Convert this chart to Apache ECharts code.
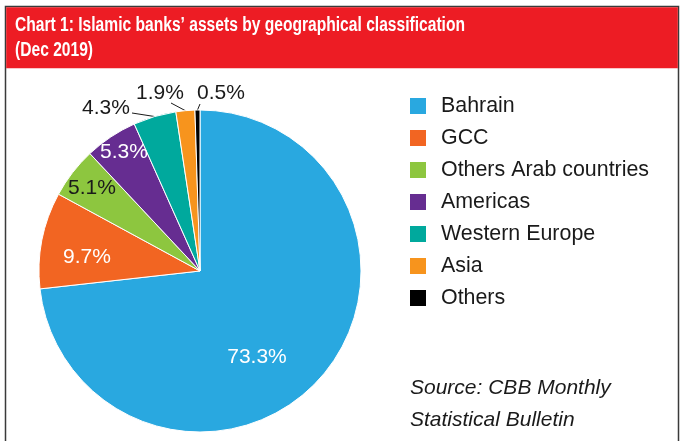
<!DOCTYPE html>
<html>
<head>
<meta charset="utf-8">
<script src="https://cdn.jsdelivr.net/npm/echarts@6/dist/echarts.min.js"></script>
<style>
  html, body { margin: 0; padding: 0; background: #ffffff; }
  #chart { width: 680px; height: 441px; }
</style>
</head>
<body>
<div id="chart"></div>
<script>
// Share of Islamic banks' assets by region, Dec 2019 (%)
const regions = ['Bahrain', 'GCC', 'Others Arab countries', 'Americas', 'Western Europe', 'Asia', 'Others'];
const shares = [73.3, 9.7, 5.1, 5.3, 4.3, 1.9, 0.5];
const sliceColors = ['#29a8e0', '#f26522', '#8dc63f', '#662d91', '#00a99d', '#f7941d', '#000000'];
const labelInk = ['#ffffff', '#ffffff', '#1a1a1a', '#ffffff', '#1a1a1a', '#1a1a1a', '#1a1a1a'];

// Where each percentage label sits (centre of the text) and which ones use a leader line
const labelSpots = [[257, 357], [87, 257], [92, 188], [124, 152], [106, 108], [160, 93], [221, 93]];
const outsideLabel = [false, false, false, false, true, true, true];
const leaderEnds = { 4: [132, 113], 5: [171, 103], 6: [200, 104] };

const FONT = '"Liberation Sans", Arial, Helvetica, sans-serif';

const chart = echarts.init(document.getElementById('chart'), null, { renderer: 'canvas' });

chart.setOption({
  animation: false,
  backgroundColor: '#ffffff',
  graphic: [
    {
      type: 'rect', silent: true, z: 0,
      shape: { x: 5.5, y: 6.5, width: 673, height: 470 },
      style: { fill: null, stroke: '#3a3a3a', lineWidth: 1.5 }
    },
    {
      type: 'rect', silent: true, z: 0,
      shape: { x: 6.2, y: 7.2, width: 671.6, height: 61 },
      style: { fill: '#ed1c24' }
    },
    {
      type: 'text', x: 15, y: 25.5, scaleX: 0.78, silent: true,
      style: {
        text: 'Chart 1: Islamic banks’ assets by geographical classification',
        font: 'bold 20px ' + FONT, fill: '#ffffff', verticalAlign: 'middle'
      }
    },
    {
      type: 'text', x: 15, y: 50, scaleX: 0.78, silent: true,
      style: { text: '(Dec 2019)', font: 'bold 20px ' + FONT, fill: '#ffffff', verticalAlign: 'middle' }
    },
    {
      type: 'text', x: 410, y: 388, silent: true,
      style: { text: 'Source: CBB Monthly', font: 'italic 21px ' + FONT, fill: '#1a1a1a', verticalAlign: 'middle' }
    },
    {
      type: 'text', x: 410, y: 420.5, silent: true,
      style: { text: 'Statistical Bulletin', font: 'italic 21px ' + FONT, fill: '#1a1a1a', verticalAlign: 'middle' }
    }
  ],
  legend: {
    orient: 'vertical',
    left: 405,
    top: 90,
    icon: 'rect',
    itemWidth: 16,
    itemHeight: 16,
    itemGap: 10,
    selectedMode: false,
    data: regions,
    itemStyle: { borderWidth: 0 },
    textStyle: {
      fontFamily: FONT, fontSize: 21.4, color: '#1a1a1a',
      lineHeight: 22, padding: [0, 0, 0, 10]
    }
  },
  series: [
    {
      type: 'pie',
      center: [200, 271],
      radius: 161,
      startAngle: 90,
      clockwise: true,
      avoidLabelOverlap: false,
      silent: true,
      itemStyle: { borderColor: '#ffffff', borderWidth: 1 },
      label: {
        show: true,
        fontFamily: FONT,
        fontSize: 21,
        formatter: (p) => p.value.toFixed(1) + '%'
      },
      labelLine: {
        show: true, length: 8, length2: 4,
        lineStyle: { color: '#1a1a1a', width: 1 }
      },
      data: regions.map((name, i) => ({
        name: name,
        value: shares[i],
        itemStyle: { color: sliceColors[i] },
        label: { color: labelInk[i], position: outsideLabel[i] ? 'outside' : 'inside' },
        labelLine: { show: outsideLabel[i] }
      })),
      labelLayout: function (p) {
        const i = p.dataIndex;
        const spot = labelSpots[i];
        const out = { x: spot[0], y: spot[1], align: 'center', verticalAlign: 'middle' };
        if (outsideLabel[i] && p.labelLinePoints && p.labelLinePoints.length) {
          out.labelLinePoints = [p.labelLinePoints[0], leaderEnds[i]];
        }
        return out;
      }
    }
  ]
});
</script>
</body>
</html>
